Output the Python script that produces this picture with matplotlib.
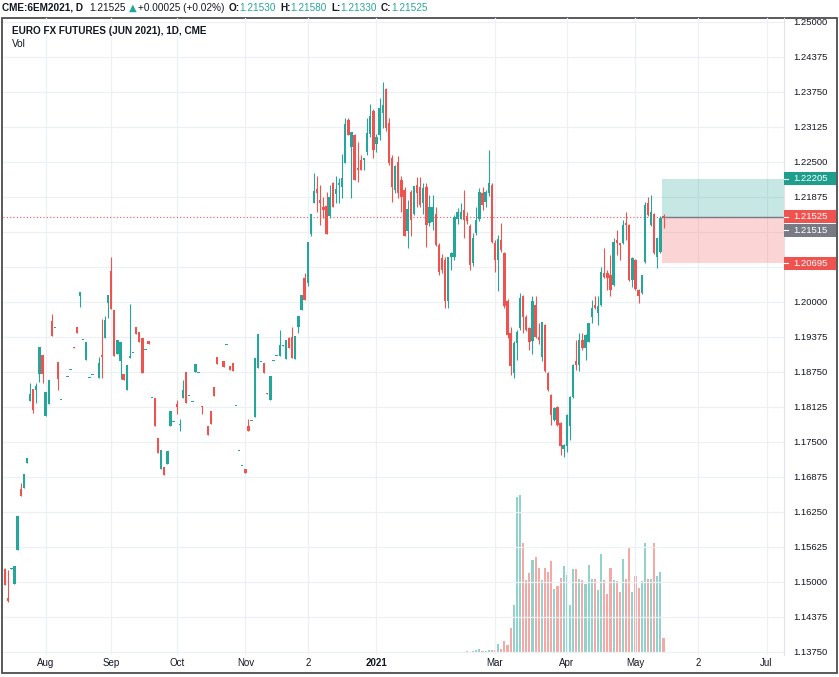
import matplotlib

matplotlib.use("Agg")
import matplotlib.pyplot as plt
import matplotlib.transforms as mtransforms
import numpy as np
import pandas as pd
from matplotlib.patches import Rectangle

UP = "#26a69a"
DOWN = "#ef5350"
INK = "#131722"
plt.rcParams["font.family"] = ["Liberation Sans", "DejaVu Sans"]

# CME session calendar (days without a daily bar)
holidays = ["2020-09-07", "2020-11-26", "2020-12-25", "2021-01-01", "2021-01-18",
            "2021-02-15", "2021-05-31", "2021-07-05"]
first_day = "2020-07-15"

opens = [
    1.1524, 1.1471, 1.1524, 1.1497, 1.1557, 1.1666, 1.1667, 1.1712, 1.1823, 1.1844,
    1.1842, 1.1872, 1.1906, 1.1797, 1.1817, 1.1966, 1.1953, 1.1892, 1.1825, 1.1826,
    1.1866, 1.1879, 1.1920, 1.1955, 1.2010, 1.1933, 1.1897, 1.1865, 1.1869, 1.1910,
    1.1864, 1.1906, 1.1935, 1.1998, 1.2056, 1.1985, 1.1907, 1.1894, 1.1872, 1.1842,
    1.1900, 1.1909, 1.1955, 1.1947, 1.1935, 1.1914, 1.1931, 1.1828, 1.1828, 1.1757,
    1.1702, 1.1705, 1.1710, 1.1779, 1.1786, 1.1817, 1.1780, 1.1829, 1.1875, 1.1833,
    1.1822, 1.1875, 1.1874, 1.1814, 1.1817, 1.1778, 1.1806, 1.1849, 1.1901, 1.1926,
    1.1894, 1.1923, 1.1885, 1.1891, 1.1815, 1.1734, 1.1707, 1.1701, 1.1778, 1.1787,
    1.1794, 1.1882, 1.1893, 1.1891, 1.1837, 1.1825, 1.1894, 1.1903, 1.1903, 1.1922,
    1.1898, 1.1935, 1.1938, 1.1898, 1.1955, 1.1986, 1.2042, 1.2034, 1.2122, 1.2176,
    1.2201, 1.2182, 1.2170, 1.2172, 1.2153, 1.2212, 1.2192, 1.2209, 1.2205, 1.2249,
    1.2325, 1.2276, 1.2298, 1.2239, 1.2254, 1.2254, 1.2267, 1.2300, 1.2341, 1.2283,
    1.2298, 1.2338, 1.2380, 1.2320, 1.2257, 1.2200, 1.2250, 1.2218, 1.2200, 1.2126,
    1.2197, 1.2158, 1.2209, 1.2206, 1.2176, 1.2206, 1.2141, 1.2142, 1.2158, 1.2102,
    1.2078, 1.2075, 1.2001, 1.2081, 1.2081, 1.2148, 1.2149, 1.2164, 1.2154, 1.2135,
    1.2069, 1.2123, 1.2149, 1.2194, 1.2179, 1.2194, 1.2209, 1.2105, 1.2075, 1.2111,
    1.2088, 1.2001, 1.1944, 1.1873, 1.1926, 1.1953, 1.2010, 1.1974, 1.1953, 1.1930,
    1.1995, 1.1938, 1.1902, 1.1959, 1.1873, 1.1834, 1.1790, 1.1813, 1.1784, 1.1737,
    1.1742, 1.1778, 1.1831, 1.1894, 1.1888, 1.1932, 1.1917, 1.1929, 1.1974, 1.1995,
    1.1980, 1.1995, 1.2051, 1.2051, 1.2048, 1.2030, 1.2111, 1.2105, 1.2105, 1.2141,
    1.2138, 1.2039, 1.2075, 1.2022, 1.2016, 1.2072, 1.2176, 1.2138, 1.2158, 1.2081,
    1.2090, 1.21530,
]
highs = [
    1.1525, 1.1522, 1.1525, 1.1528, 1.1617, 1.1676, 1.1693, 1.1721, 1.1856, 1.1845,
    1.1856, 1.1919, 1.1906, 1.1839, 1.1861, 1.1978, 1.1953, 1.1892, 1.1825, 1.1826,
    1.1866, 1.1879, 1.1920, 1.1955, 1.2017, 1.1933, 1.1929, 1.1865, 1.1869, 1.1910,
    1.1901, 1.1969, 1.1975, 1.2013, 1.2080, 1.1985, 1.1933, 1.1929, 1.1872, 1.1888,
    1.1997, 1.1909, 1.1955, 1.1947, 1.1935, 1.1914, 1.1931, 1.1828, 1.1828, 1.1757,
    1.1736, 1.1705, 1.1734, 1.1806, 1.1786, 1.1825, 1.1791, 1.1861, 1.1875, 1.1833,
    1.1822, 1.1890, 1.1874, 1.1814, 1.1817, 1.1778, 1.1806, 1.1849, 1.1901, 1.1926,
    1.1894, 1.1923, 1.1885, 1.1891, 1.1815, 1.1734, 1.1707, 1.1701, 1.1791, 1.1787,
    1.1900, 1.1943, 1.1893, 1.1891, 1.1837, 1.1867, 1.1894, 1.1903, 1.1950, 1.1923,
    1.1933, 1.1938, 1.1955, 1.1939, 1.1975, 1.2013, 1.2051, 1.2107, 1.2157, 1.2230,
    1.2225, 1.2209, 1.2188, 1.2197, 1.2209, 1.2214, 1.2225, 1.2221, 1.2264, 1.2328,
    1.2328, 1.2304, 1.2300, 1.2285, 1.2262, 1.2257, 1.2328, 1.2353, 1.2345, 1.2300,
    1.2364, 1.2392, 1.2382, 1.2328, 1.2262, 1.2245, 1.2260, 1.2225, 1.2205, 1.2182,
    1.2200, 1.2207, 1.2224, 1.2224, 1.2212, 1.2212, 1.2191, 1.2191, 1.2170, 1.2105,
    1.2085, 1.2080, 1.2081, 1.2090, 1.2155, 1.2168, 1.2177, 1.2200, 1.2160, 1.2140,
    1.2124, 1.2170, 1.2203, 1.2206, 1.2200, 1.2271, 1.2212, 1.2110, 1.2120, 1.2141,
    1.2090, 1.2005, 1.1956, 1.1930, 1.1950, 1.2016, 1.2012, 1.1976, 1.1955, 1.2010,
    1.2010, 1.1962, 1.1965, 1.1960, 1.1875, 1.1836, 1.1812, 1.1815, 1.1786, 1.1746,
    1.1800, 1.1832, 1.1889, 1.1932, 1.1944, 1.1944, 1.1942, 1.1963, 1.2004, 1.2010,
    1.2010, 1.2063, 1.2096, 1.2057, 1.2084, 1.2114, 1.2129, 1.2106, 1.2146, 1.2161,
    1.2140, 1.2080, 1.2076, 1.2023, 1.2049, 1.2179, 1.2188, 1.2191, 1.2159, 1.2115,
    1.2153, 1.21580,
]
lows = [
    1.1494, 1.1465, 1.1524, 1.1496, 1.1557, 1.1654, 1.1667, 1.1712, 1.1823, 1.1801,
    1.1819, 1.1858, 1.1855, 1.1797, 1.1817, 1.1939, 1.1953, 1.1843, 1.1825, 1.1826,
    1.1866, 1.1879, 1.1917, 1.1944, 1.1991, 1.1933, 1.1897, 1.1865, 1.1869, 1.1910,
    1.1864, 1.1864, 1.1935, 1.1971, 1.1987, 1.1903, 1.1907, 1.1862, 1.1861, 1.1842,
    1.1900, 1.1909, 1.1943, 1.1929, 1.1873, 1.1914, 1.1925, 1.1828, 1.1778, 1.1730,
    1.1702, 1.1691, 1.1710, 1.1779, 1.1786, 1.1800, 1.1769, 1.1829, 1.1819, 1.1833,
    1.1822, 1.1875, 1.1874, 1.1800, 1.1817, 1.1763, 1.1782, 1.1832, 1.1889, 1.1926,
    1.1884, 1.1923, 1.1878, 1.1876, 1.1815, 1.1734, 1.1707, 1.1694, 1.1769, 1.1787,
    1.1794, 1.1882, 1.1893, 1.1873, 1.1835, 1.1825, 1.1894, 1.1903, 1.1903, 1.1922,
    1.1898, 1.1917, 1.1900, 1.1898, 1.1944, 1.1986, 1.2004, 1.2028, 1.2118, 1.2176,
    1.2161, 1.2138, 1.2150, 1.2122, 1.2150, 1.2169, 1.2176, 1.2176, 1.2185, 1.2249,
    1.2298, 1.2185, 1.2218, 1.2215, 1.2236, 1.2236, 1.2262, 1.2295, 1.2257, 1.2268,
    1.2290, 1.2310, 1.2305, 1.2245, 1.2178, 1.2195, 1.2185, 1.2160, 1.2118, 1.2096,
    1.2117, 1.2155, 1.2170, 1.2170, 1.2158, 1.2099, 1.2135, 1.2129, 1.2100, 1.2048,
    1.2052, 1.1989, 1.1990, 1.2057, 1.2075, 1.2140, 1.2149, 1.2114, 1.2140, 1.2057,
    1.2065, 1.2120, 1.2145, 1.2165, 1.2170, 1.2190, 1.2105, 1.2054, 1.2019, 1.2090,
    1.1990, 1.1935, 1.1869, 1.1864, 1.1897, 1.1950, 1.1945, 1.1948, 1.1914, 1.1908,
    1.1936, 1.1925, 1.1894, 1.1875, 1.1841, 1.1781, 1.1788, 1.1779, 1.1727, 1.1724,
    1.1733, 1.1754, 1.1829, 1.1879, 1.1876, 1.1915, 1.1897, 1.1928, 1.1962, 1.1987,
    1.1959, 1.1993, 1.2043, 1.2022, 1.2010, 1.2028, 1.2084, 1.2075, 1.2103, 1.2111,
    1.2037, 1.2027, 1.2022, 1.1998, 1.2014, 1.2070, 1.2153, 1.2136, 1.2085, 1.2060,
    1.2088, 1.21330,
]
closes = [
    1.1495, 1.1466, 1.1525, 1.1528, 1.1617, 1.1654, 1.1693, 1.1721, 1.1836, 1.1807,
    1.1850, 1.1919, 1.1872, 1.1839, 1.1861, 1.1939, 1.1953, 1.1862, 1.1825, 1.1826,
    1.1866, 1.1879, 1.1917, 1.1944, 1.2017, 1.1933, 1.1929, 1.1865, 1.1869, 1.1910,
    1.1891, 1.1901, 1.1968, 1.2013, 1.1987, 1.1903, 1.1933, 1.1929, 1.1861, 1.1888,
    1.1904, 1.1909, 1.1943, 1.1929, 1.1873, 1.1914, 1.1925, 1.1828, 1.1778, 1.1730,
    1.1736, 1.1691, 1.1734, 1.1806, 1.1786, 1.1813, 1.1781, 1.1842, 1.1819, 1.1833,
    1.1822, 1.1890, 1.1874, 1.1812, 1.1817, 1.1763, 1.1782, 1.1832, 1.1889, 1.1926,
    1.1884, 1.1923, 1.1878, 1.1876, 1.1815, 1.1734, 1.1707, 1.1694, 1.1769, 1.1787,
    1.1900, 1.1943, 1.1893, 1.1873, 1.1835, 1.1867, 1.1894, 1.1903, 1.1923, 1.1923,
    1.1933, 1.1917, 1.1900, 1.1939, 1.1975, 1.2013, 1.2004, 1.2107, 1.2157, 1.2199,
    1.2195, 1.2176, 1.2164, 1.2122, 1.2188, 1.2169, 1.2201, 1.2213, 1.2221, 1.2318,
    1.2298, 1.2304, 1.2218, 1.2236, 1.2236, 1.2257, 1.2301, 1.2332, 1.2272, 1.2295,
    1.2346, 1.2352, 1.2310, 1.2248, 1.2206, 1.2242, 1.2195, 1.2188, 1.2118, 1.2166,
    1.2147, 1.2207, 1.2194, 1.2173, 1.2203, 1.2138, 1.2169, 1.2169, 1.2102, 1.2054,
    1.2057, 1.2001, 1.2081, 1.2088, 1.2151, 1.2161, 1.2161, 1.2146, 1.2145, 1.2066,
    1.2115, 1.2146, 1.2197, 1.2173, 1.2197, 1.2212, 1.2108, 1.2075, 1.2112, 1.2093,
    1.1992, 1.1941, 1.1885, 1.1926, 1.1947, 1.2007, 1.1974, 1.1950, 1.1929, 1.2001,
    1.1938, 1.1932, 1.1965, 1.1876, 1.1843, 1.1798, 1.1810, 1.1781, 1.1742, 1.1745,
    1.1798, 1.1831, 1.1888, 1.1888, 1.1932, 1.1917, 1.1941, 1.1962, 1.1989, 1.1989,
    1.1992, 1.2054, 1.2045, 1.2042, 1.2022, 1.2108, 1.2105, 1.2102, 1.2138, 1.2138,
    1.2039, 1.2078, 1.2024, 1.2010, 1.2048, 1.2173, 1.2155, 1.2161, 1.2087, 1.2114,
    1.2150, 1.21525,
]
# volume, thousands of contracts
volume_k = [
    2, 1, 2, 2, 3, 2, 2, 1, 2, 2,
    2, 3, 2, 2, 1, 2, 2, 2, 1, 1,
    2, 1, 2, 2, 2, 1, 2, 1, 1, 2,
    2, 2, 2, 3, 2, 2, 2, 2, 1, 2,
    2, 1, 2, 2, 2, 1, 2, 1, 2, 2,
    2, 2, 2, 2, 1, 2, 2, 2, 2, 1,
    1, 2, 1, 2, 1, 2, 2, 2, 2, 1,
    2, 1, 2, 2, 1, 1, 1, 2, 2, 1,
    3, 2, 1, 2, 2, 2, 1, 1, 2, 1,
    2, 2, 2, 2, 2, 2, 2, 3, 2, 2,
    2, 2, 2, 2, 2, 2, 2, 2, 2, 3,
    2, 2, 2, 2, 2, 2, 2, 2, 2, 2,
    3, 3, 2, 2, 2, 2, 2, 2, 2, 2,
    2, 2, 2, 2, 2, 2, 2, 2, 2, 3,
    2, 2, 3, 2, 3, 2, 3, 3, 4, 3,
    4, 7, 10, 5, 5, 7, 7, 7, 23, 9,
    32, 21, 68, 130, 420, 426, 297, 196, 214, 250,
    259, 228, 196, 230, 218, 248, 172, 180, 201, 235,
    210, 128, 225, 227, 199, 196, 185, 236, 199, 199,
    169, 266, 196, 159, 228, 196, 194, 164, 252, 200,
    283, 165, 208, 176, 194, 295, 199, 200, 295, 207,
    218, 39,
]

symbol = "CME:6EM2021, D"
title = "EURO FX FUTURES (JUN 2021), 1D, CME"
change, change_pct = 0.00025, 0.02
bid_price = 1.21515
target_price, stop_price = 1.22205, 1.20695

tick_months = ["2020-08", "2020-09", "2020-10", "2020-11", "2020-12", "2021-01",
               "2021-03", "2021-04", "2021-05", "2021-06", "2021-07"]
tick_labels = ["Aug", "Sep", "Oct", "Nov", "2", "2021", "Mar", "Apr", "May", "2", "Jul"]
price_ticks = np.arange(1.1375, 1.25001, 0.00625)

o = np.array(opens)
h = np.array(highs)
l = np.array(lows)
c = np.array(closes)
v = np.array(volume_k, dtype=float)
h = np.maximum(h, np.maximum(o, c))
l = np.minimum(l, np.minimum(o, c))
x = np.arange(len(c))
up = c >= o
colors = np.where(up, UP, DOWN)

days = pd.bdate_range(first_day, "2021-07-30", freq="C", holidays=holidays)
months = np.asarray(days.strftime("%Y-%m"))
tick_pos = [int(np.argmax(months == m)) for m in tick_months]

W, H = 839, 677
fig = plt.figure(figsize=(W / 100, H / 100), dpi=100)
ax = fig.add_axes([3 / W, 1 - 655 / H, 781 / W, 637 / H])
ax_vol = ax.twinx()
ax.set_zorder(ax_vol.get_zorder() + 1)
ax.patch.set_visible(False)

# volume pane
ax_vol.bar(x, v, width=0.68, color=colors, alpha=0.5, linewidth=0)
ax_vol.set_ylim(-6.2, 1714)
ax_vol.set_yticks([])
for s in ax_vol.spines.values():
    s.set_visible(False)

# candles
ax.vlines(x, l, h, colors=colors, lw=0.8, zorder=3)
body = np.maximum(np.abs(c - o), 0.00016)
ax.bar(x, body, bottom=np.minimum(o, c), width=0.76, color=colors, linewidth=0, zorder=3)

last = c[-1]
ax.axhline(last, color=DOWN, lw=0.8, ls=(0, (1, 2)), zorder=1)

# long position tool
x0 = x[-1] - 0.4
x1 = 249.6
ax.add_patch(Rectangle((x0, last), x1 - x0, target_price - last, facecolor=UP, alpha=0.26, lw=0, zorder=1))
ax.add_patch(Rectangle((x0, stop_price), x1 - x0, last - stop_price, facecolor=DOWN, alpha=0.24, lw=0, zorder=1))
ax.plot([x0, x1], [last, last], color="#787b86", lw=1, zorder=2)

ax.set_xlim(-0.67, 249.6)
ax.set_ylim(1.136964, 1.250714)

# price tags on the scale (bid tag is pushed down to clear the last-price tag)
tags = [(target_price, "#1e9e8c", 0), (last, DOWN, 0),
        (bid_price, "#787b86", 13), (stop_price, DOWN, 0)]
px_per_price = 5600
hidden = [p for p in price_ticks
          if any(abs((p - val) * px_per_price + sh) < 11 for val, _, sh in tags)]

ax.set_xticks(tick_pos)
ax.set_xticklabels(tick_labels)
ax.set_yticks(price_ticks)
ax.set_yticklabels(["" if p in hidden else f"{p:.5f}" for p in price_ticks])
ax.yaxis.tick_right()
ax.tick_params(axis="y", length=0, pad=6.5, labelsize=6.8, labelcolor=INK)
ax.tick_params(axis="x", length=0, pad=2.5, labelsize=7, labelcolor=INK)
for lab in ax.get_xticklabels():
    if lab.get_text() == "2021":
        lab.set_fontweight("bold")
ax.grid(True, color="#edf0f4", lw=0.9)
ax.set_axisbelow(True)
for name in ["top", "left", "bottom"]:
    ax.spines[name].set_visible(False)
ax.spines["right"].set_color("#e0e3eb")
ax.spines["right"].set_linewidth(0.8)

trans = mtransforms.blended_transform_factory(ax.transAxes, ax.transData)
half = 6.5 / px_per_price
tag_w = 52 / 781
for val, bg, shift in tags:
    off = mtransforms.offset_copy(trans, fig=fig, x=0, y=-shift, units="dots")
    ax.add_patch(Rectangle((1.0, val - half), tag_w, 2 * half, transform=off,
                           facecolor=bg, lw=0, clip_on=False, zorder=5))
    ax.plot([1.0005, 1.0055], [val, val], transform=off, color="white", lw=0.8,
            clip_on=False, zorder=6)
    ax.text(1.0 + 9 / 781, val, f"{val:.5f}", transform=off, color="white",
            fontsize=6.8, va="center", ha="left", clip_on=False, zorder=6)

# outer frame
fig.add_artist(Rectangle((2 / W, 1 - 673 / H), 835 / W, 655 / H, transform=fig.transFigure,
                         fill=False, edgecolor="#4d4d4d", lw=1.3))

# header line, laid out piece by piece
parts = [
    (symbol, INK, "bold", 6),
    (f"{last:.5f}", INK, "normal", 3),
    ("\u25B2", UP, "normal", 2),
    (f"+{change:.5f} (+{change_pct:.2f}%)", INK, "normal", 4),
    ("O:", INK, "bold", 0), (f"{o[-1]:.5f}", UP, "normal", 4),
    ("H:", INK, "bold", 0), (f"{h[-1]:.5f}", UP, "normal", 4),
    ("L:", INK, "bold", 0), (f"{l[-1]:.5f}", UP, "normal", 4),
    ("C:", INK, "bold", 0), (f"{c[-1]:.5f}", UP, "normal", 0),
]
renderer = fig.canvas.get_renderer()
cursor = 2.0
for txt, col, wt, gap in parts:
    t = fig.text(cursor / W, 1 - 8 / H, txt, color=col, fontweight=wt, fontsize=7.2,
                 va="center", ha="left", family=["DejaVu Sans"] if txt == "\u25B2" else None)
    cursor += t.get_window_extent(renderer).width + gap

fig.text(12 / W, 1 - 31 / H, title, color=INK, fontweight="bold", fontsize=7.2, va="center")
fig.text(12 / W, 1 - 44 / H, "Vol", color=INK, fontsize=7.2, va="center")

fig.savefig("out.png", dpi=100)
plt.close(fig)
